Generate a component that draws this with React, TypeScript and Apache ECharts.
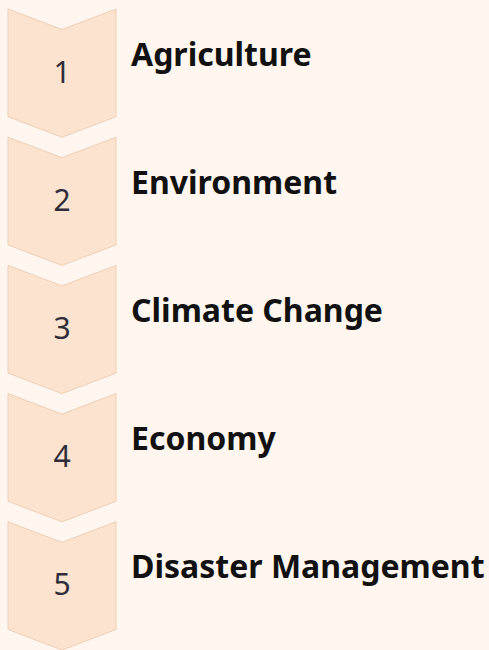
import React, { useEffect, useRef } from "react";
import * as echarts from "echarts";

const steps = ["1", "2", "3", "4", "5"];
const labels = ["Agriculture", "Environment", "Climate Change", "Economy", "Disaster Management"];

export default function App() {
  const ref = useRef<HTMLDivElement>(null);
  useEffect(() => {
    if (!ref.current) return;
    const chart = echarts.init(ref.current, null, { renderer: "svg" });
    chart.setOption({
      animation: false,
      backgroundColor: "#FEF6EF",
      grid: { left: 8, top: 9, width: 108, height: 642.5 },
      xAxis: { type: "value", min: 0, max: 1, show: false },
      yAxis: { type: "category", data: steps, inverse: true, show: false },
      series: [
        {
          type: "custom",
          clip: false,
          data: steps.map((s, i) => [1, i]),
          renderItem: (params: any, api: any) => {
            const i = api.value(1);
            const c = api.coord([0, i]);
            const left = c[0];
            const right = api.coord([1, i])[0];
            const band = api.size([0, 1])[1];
            const top = c[1] - band / 2;
            const bottom = top + band;
            const mid = (left + right) / 2;
            const d = 20.5;
            return {
              type: "group",
              children: [
                {
                  type: "polygon",
                  shape: {
                    points: [
                      [left, top],
                      [mid, top + d],
                      [right, top],
                      [right, bottom - d],
                      [mid, bottom],
                      [left, bottom - d],
                    ],
                  },
                  style: { fill: "#FCE3CF", stroke: "#EFCFB6", lineWidth: 1 },
                },
                {
                  type: "text",
                  style: {
                    x: mid,
                    y: top + 62,
                    text: steps[params.dataIndex],
                    fill: "#2E2E3A",
                    font: "normal 30px 'Noto Sans'",
                    align: "center",
                    verticalAlign: "middle",
                  },
                },
                {
                  type: "text",
                  style: {
                    x: right + 15,
                    y: top + 44,
                    text: labels[params.dataIndex],
                    fill: "#111111",
                    font: "bold 32px 'Noto Sans'",
                    align: "left",
                    verticalAlign: "middle",
                  },
                },
              ],
            };
          },
        },
      ],
    });
    return () => chart.dispose();
  }, []);
  return (
    <div
      ref={ref}
      style={{ position: "fixed", left: 0, top: 0, width: 489, height: 650, background: "#FEF6EF" }}
    />
  );
}
